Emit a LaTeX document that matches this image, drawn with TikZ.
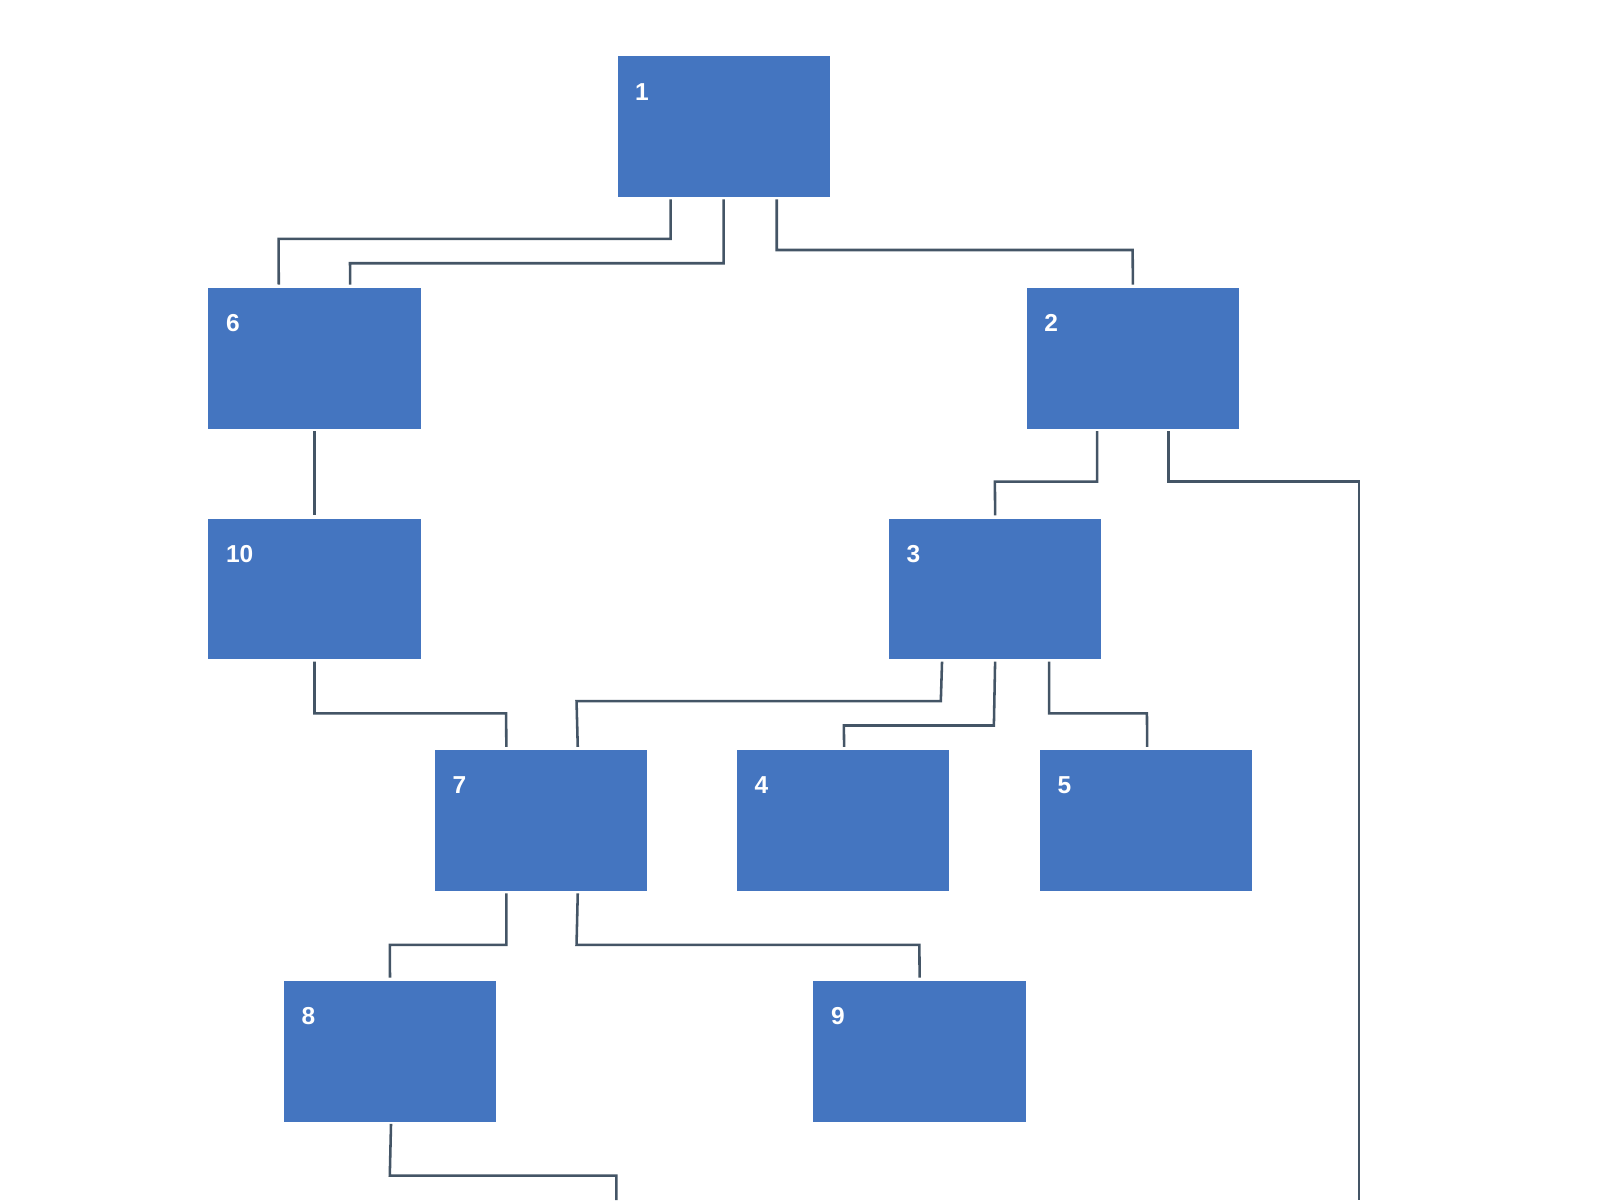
\documentclass[tikz,border=0pt]{standalone}
\usepackage{fontspec}
\setmainfont{Liberation Sans}
\usetikzlibrary{calc}
\definecolor{boxblue}{HTML}{4475C0}
\definecolor{linkgray}{HTML}{445566}
\tikzset{card/.style={fill=boxblue,minimum width=208pt,minimum height=138pt,anchor=north west,inner sep=0pt},
  num/.style={text=white,font=\fontsize{24}{28}\selectfont\bfseries,anchor=base west},
  link/.style={draw=linkgray,line width=2.5pt}}
\begin{document}
\begin{tikzpicture}[x=1pt,y=-1pt]
  \useasboundingbox (0,0) rectangle (1568,1176);
  % boxes
  \foreach \n/\x/\y in {1/605/55, 6/204/282, 2/1006/282, 10/204/508, 3/871/508, 7/426/735, 4/722/735, 5/1019/735, 8/278/961, 9/797/961}
  {\node (b\n) [card] at (\x,\y) {};
   \node (t\n) [num] at (\x+14,\y+43) {\n};}
  % free ends
  \coordinate (e2) at (1332,1176);
  \coordinate (e8) at (604,1176);
  % connectors
  \draw[link] ($(b1.south)+(-52,2)$) |- (273,234) -- ($(b6.north)+(-35,-3)$);
  \draw[link] ($(b1.south)+(0,2)$) |- (343,258) -- ($(b6.north)+(35,-3)$);
  \draw[link] ($(b1.south)+(52,2)$) |- (1110,245) -- ($(b2.north)+(0,-3)$);
  \draw[link] ($(b6.south)+(0,2)$) -- ($(b10.north)+(0,-3)$);
  \draw[link] ($(b2.south)+(-35,2)$) |- (975,472) -- ($(b3.north)+(0,-3)$);
  \draw[link] ($(b2.south)+(35,2)$) |- (1332,472) -- (e2);
  \draw[link] ($(b10.south)+(0,2)$) |- (496,699) -- ($(b7.north)+(-34,-3)$);
  \draw[link] ($(b3.south)+(-52,2)$) -- (922,687) -- (565,687) -- ($(b7.north)+(36,-3)$);
  \draw[link] ($(b3.south)+(0,2)$) -- (974,711) -- (827,711) -- ($(b4.north)+(1,-3)$);
  \draw[link] ($(b3.south)+(53,2)$) |- (1124,699) -- ($(b5.north)+(1,-3)$);
  \draw[link] ($(b7.south)+(-34,2)$) |- (382,926) -- ($(b8.north)+(0,-3)$);
  \draw[link] ($(b7.south)+(36,2)$) -- (565,926) -- (901,926) -- ($(b9.north)+(0,-3)$);
  \draw[link] ($(b8.south)+(1,2)$) -- (382,1152) -| (e8);
\end{tikzpicture}
\end{document}
